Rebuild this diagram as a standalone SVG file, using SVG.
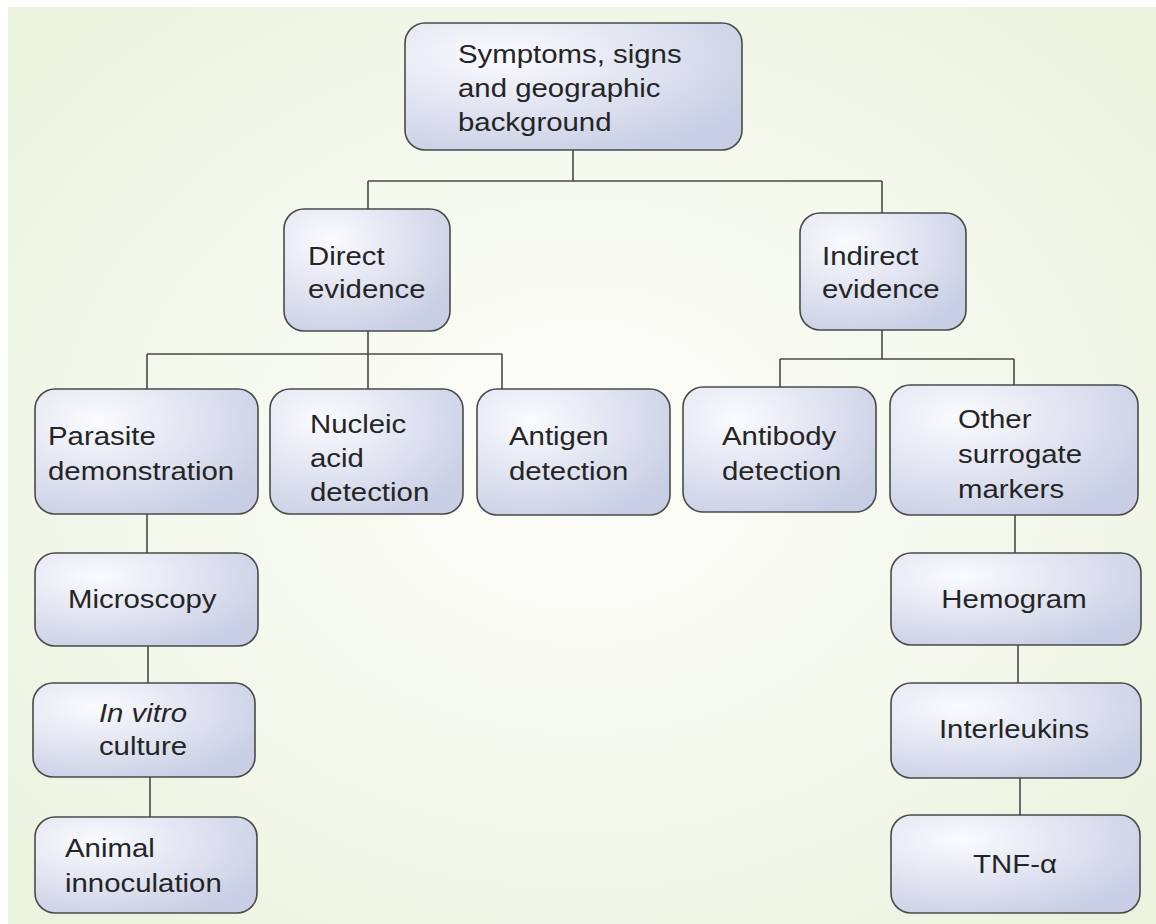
<svg xmlns="http://www.w3.org/2000/svg" width="1156" height="924" viewBox="0 0 1156 924">
<defs>
<radialGradient id="bg" cx="50%" cy="50%" r="65%">
<stop offset="0" stop-color="#fdfdf9"/>
<stop offset="0.6" stop-color="#f4f8ec"/>
<stop offset="1" stop-color="#ebf3df"/>
</radialGradient>
<radialGradient id="box" cx="28%" cy="25%" r="85%">
<stop offset="0" stop-color="#fafbfe"/>
<stop offset="0.45" stop-color="#e4e7f3"/>
<stop offset="1" stop-color="#c8cee4"/>
</radialGradient>
<style>
.b{fill:url(#box);stroke:#4a4a4a;stroke-width:1.6}
.t{font-family:"Liberation Sans",Arial,sans-serif;font-size:26px;fill:#252525}
.c{text-anchor:middle}
.l{stroke:#4a4a4a;stroke-width:1.6;fill:none}
</style>
</defs>
<rect x="0" y="0" width="1156" height="924" fill="#ffffff"/>
<rect x="8" y="7" width="1148" height="917" fill="url(#bg)"/>
<g id="connectors" class="l">
<path d="M573 150V181M368 181H882M368 181V209M882 181V213"/>
<path d="M368 331V354M147 354H502M147 354V389M368 354V389M502 354V389"/>
<path d="M882 330V359M780 359H1014M780 359V387M1014 359V385"/>
<path d="M147 514V553M148 646V683M150 777V817"/>
<path d="M1015 515V553M1018 645V683M1020 778V815"/>
</g>
<g id="n-top"><rect class="b" x="405" y="23" width="337" height="127" rx="20"/>
<text class="t" transform="translate(458,63) scale(1.13,1)"><tspan x="0" y="0">Symptoms, signs</tspan><tspan x="0" y="34">and geographic</tspan><tspan x="0" y="68">background</tspan></text></g>
<g id="n-direct"><rect class="b" x="284" y="209" width="166" height="122" rx="20"/>
<text class="t" transform="translate(308,265) scale(1.13,1)"><tspan x="0" y="0">Direct</tspan><tspan x="0" y="33">evidence</tspan></text></g>
<g id="n-indirect"><rect class="b" x="800" y="213" width="166" height="117" rx="20"/>
<text class="t" transform="translate(822,265) scale(1.13,1)"><tspan x="0" y="0">Indirect</tspan><tspan x="0" y="33">evidence</tspan></text></g>
<g id="n-parasite"><rect class="b" x="35" y="389" width="223" height="125" rx="20"/>
<text class="t" transform="translate(48,445) scale(1.13,1)"><tspan x="0" y="0">Parasite</tspan><tspan x="0" y="35">demonstration</tspan></text></g>
<g id="n-nucleic"><rect class="b" x="270" y="389" width="193" height="125" rx="20"/>
<text class="t" transform="translate(310,433) scale(1.13,1)"><tspan x="0" y="0">Nucleic</tspan><tspan x="0" y="34">acid</tspan><tspan x="0" y="68">detection</tspan></text></g>
<g id="n-antigen"><rect class="b" x="477" y="389" width="193" height="126" rx="20"/>
<text class="t" transform="translate(509,445) scale(1.13,1)"><tspan x="0" y="0">Antigen</tspan><tspan x="0" y="35">detection</tspan></text></g>
<g id="n-antibody"><rect class="b" x="683" y="387" width="193" height="125" rx="20"/>
<text class="t" transform="translate(722,445) scale(1.13,1)"><tspan x="0" y="0">Antibody</tspan><tspan x="0" y="35">detection</tspan></text></g>
<g id="n-other"><rect class="b" x="890" y="385" width="248" height="130" rx="20"/>
<text class="t" transform="translate(958,428) scale(1.13,1)"><tspan x="0" y="0">Other</tspan><tspan x="0" y="35">surrogate</tspan><tspan x="0" y="70">markers</tspan></text></g>
<g id="n-microscopy"><rect class="b" x="35" y="553" width="223" height="93" rx="20"/>
<text class="t" transform="translate(68,608) scale(1.13,1)">Microscopy</text></g>
<g id="n-invitro"><rect class="b" x="33" y="683" width="222" height="94" rx="20"/>
<text class="t c" transform="translate(143,722) scale(1.13,1)"><tspan x="0" y="0" font-style="italic">In vitro</tspan><tspan x="0" y="33">culture</tspan></text></g>
<g id="n-animal"><rect class="b" x="35" y="817" width="222" height="96" rx="20"/>
<text class="t" transform="translate(65,857) scale(1.13,1)"><tspan x="0" y="0">Animal</tspan><tspan x="0" y="35">innoculation</tspan></text></g>
<g id="n-hemogram"><rect class="b" x="891" y="553" width="250" height="92" rx="20"/>
<text class="t c" transform="translate(1014,608) scale(1.13,1)">Hemogram</text></g>
<g id="n-interleukins"><rect class="b" x="891" y="683" width="250" height="95" rx="20"/>
<text class="t c" transform="translate(1014,738) scale(1.13,1)">Interleukins</text></g>
<g id="n-tnf"><rect class="b" x="891" y="815" width="249" height="98" rx="20"/>
<text class="t c" transform="translate(1015,873) scale(1.13,1)">TNF-α</text></g>
</svg>
